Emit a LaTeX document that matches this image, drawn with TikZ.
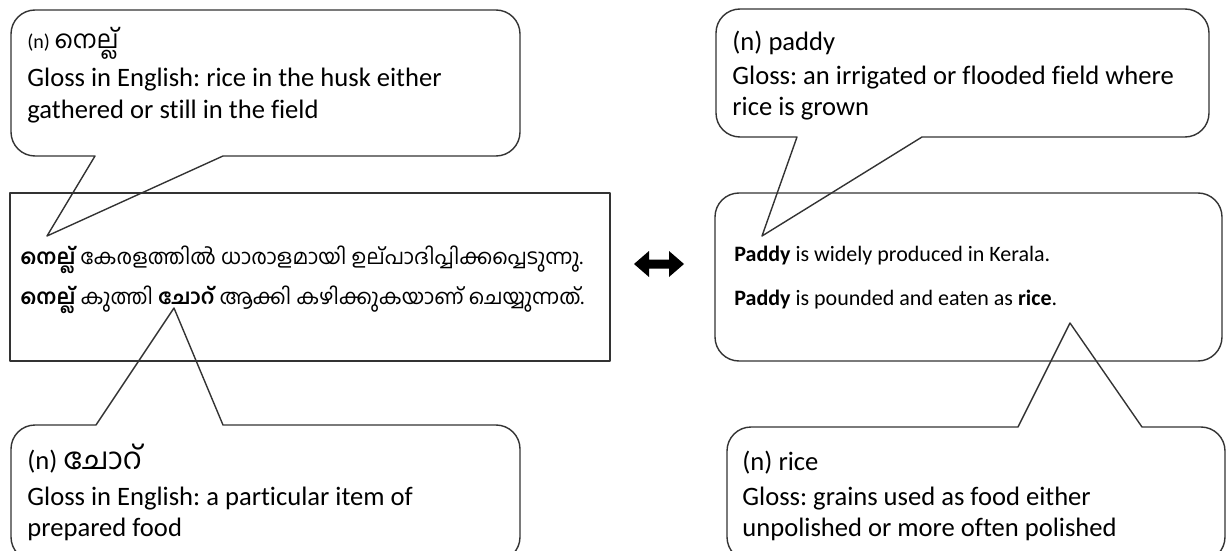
\documentclass[tikz,border=0pt]{standalone}
\usepackage{fontspec}
\setmainfont{Carlito}[Ligatures=NoCommon]
\newfontfamily\mal[Script=Malayalam]{Hind Kochi}
\frenchspacing
\begin{document}
\begin{tikzpicture}[x=0.5pt,y=-0.5pt,
  outline/.style={draw=black!80, line width=0.7pt, line join=round},
  txt/.style={anchor=base west, inner sep=0pt, font=\fontsize{11}{13}\selectfont},
  bubtxt/.style={anchor=base west, inner sep=0pt, font=\fontsize{13.3}{16}\selectfont},
  mltxt/.style={anchor=base west, inner sep=0pt, font=\mal\fontsize{10.5}{13}\selectfont}]
\useasboundingbox (0,0) rectangle (1227,551);

% tips of the four speech-bubble tails
\coordinate (tipA) at (47,236);
\coordinate (tipB) at (174,308);
\coordinate (tipC) at (762,236);
\coordinate (tipD) at (1070,323);

% left sentence box
\draw[outline] (10,193) rectangle (610,361);
\node[mltxt] (ml1) at (20,264) {{\bfseries നെല്ല്} കേരളത്തിൽ ധാരാളമായി ഉല്‌പാദിപ്പിക്കപ്പെടുന്നു.};
\node[mltxt] (ml2) at (20,304) {{\bfseries നെല്ല്} കുത്തി {\bfseries ചോറ്} ആക്കി കഴിക്കുകയാണ് ചെയ്യുന്നത്.};

% right sentence box
\draw[outline, rounded corners=12pt] (715,193) rectangle (1222,361);
\node[txt] (en1) at (734,262) {\textbf{Paddy} is widely produced in Kerala.};
\node[txt] (en2) at (734,305) {\textbf{Paddy} is pounded and eaten as \textbf{rice}.};

% double arrow between the two boxes
\fill[black] (634,264) -- (649,251) -- (649,259.5) -- (669,259.5) -- (669,251) -- (684,264)
  -- (669,277) -- (669,268.5) -- (649,268.5) -- (649,277) -- cycle;

% bubble above left box (tail down)
\draw[outline] (35,10) -- (496,10) arc[start angle=-90,end angle=0,radius=24]
  -- (520,132) arc[start angle=0,end angle=90,radius=24]
  -- (223,156) -- (tipA) -- (95,156)
  -- (35,156) arc[start angle=90,end angle=180,radius=24]
  -- (11,34) arc[start angle=180,end angle=270,radius=24] -- cycle;
\node[bubtxt] (a1) at (27,49) {\fontsize{10}{12}\selectfont(n) {\mal\fontsize{12.5}{15}\selectfont നെല്ല്}};
\node[bubtxt] (a2) at (27,87) {Gloss in English: rice in the husk either};
\node[bubtxt] (a3) at (27,119) {gathered or still in the field};

% bubble below left box (tail up)
\draw[outline] (35,425) -- (96,425) -- (tipB) -- (223,425)
  -- (496,425) arc[start angle=-90,end angle=0,radius=24]
  -- (520,537) arc[start angle=0,end angle=90,radius=24]
  -- (35,561) arc[start angle=90,end angle=180,radius=24]
  -- (11,449) arc[start angle=180,end angle=270,radius=24] -- cycle;
\node[bubtxt] (b1) at (27,469) {(n) {\mal\fontsize{15}{17}\selectfont ചോറ്}};
\node[bubtxt] (b2) at (27,505) {Gloss in English: a particular item of};
\node[bubtxt] (b3) at (27,536) {prepared food};

% bubble above right box (tail down)
\draw[outline] (740,9) -- (1185,9) arc[start angle=-90,end angle=0,radius=24]
  -- (1209,113) arc[start angle=0,end angle=90,radius=24]
  -- (922,137) -- (tipC) -- (797,137)
  -- (740,137) arc[start angle=90,end angle=180,radius=24]
  -- (716,33) arc[start angle=180,end angle=270,radius=24] -- cycle;
\node[bubtxt] (c1) at (732,51) {(n) paddy};
\node[bubtxt] (c2) at (732,85) {Gloss: an irrigated or flooded field where};
\node[bubtxt] (c3) at (732,116) {rice is grown};

% bubble below right box (tail up)
\draw[outline] (751,427) -- (1018,427) -- (tipD) -- (1142,427)
  -- (1201,427) arc[start angle=-90,end angle=0,radius=24]
  -- (1225,537) arc[start angle=0,end angle=90,radius=24]
  -- (751,561) arc[start angle=90,end angle=180,radius=24]
  -- (727,451) arc[start angle=180,end angle=270,radius=24] -- cycle;
\node[bubtxt] (d1) at (742,470) {(n) rice};
\node[bubtxt] (d2) at (742,505) {Gloss: grains used as food either};
\node[bubtxt] (d3) at (742,536) {unpolished or more often polished};
\end{tikzpicture}
\end{document}
